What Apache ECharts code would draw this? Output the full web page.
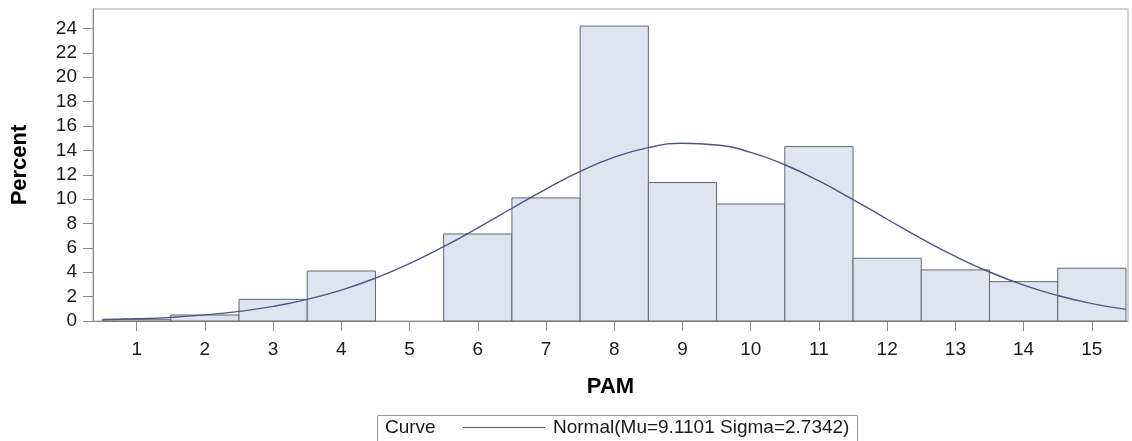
<!DOCTYPE html>
<html>
<head>
<meta charset="utf-8">
<script src="https://cdn.jsdelivr.net/npm/echarts@6/dist/echarts.min.js"></script>
<style>
  html, body { margin: 0; padding: 0; background: #fff; }
  #main { width: 1132px; height: 441px; }
</style>
</head>
<body>
<div id="main"></div>
<script>
// histogram bins (PAM), bin width 1, centred on the integers
var binCenters = [1, 2, 3, 4, 5, 6, 7, 8, 9, 10, 11, 12, 13, 14, 15];
var binPercent = [0.14, 0.49, 1.78, 4.1, 0, 7.14, 10.1, 24.2, 11.36, 9.6, 14.31, 5.15, 4.19, 3.23, 4.33];

// normal curve, every half unit
var curveX = [0.5, 1, 1.5, 2, 2.5, 3, 3.5, 4, 4.5, 5, 5.5, 6, 6.5, 7, 7.5, 8,
              8.5, 9, 9.5, 10, 10.5, 11, 11.5, 12, 12.5, 13, 13.5, 14, 14.5, 15, 15.5];
var curveY = [0.10, 0.18, 0.30, 0.50, 0.79, 1.20, 1.78, 2.54, 3.52, 4.71, 6.10, 7.64,
              9.25, 10.83, 12.27, 13.44, 14.23, 14.58, 14.44, 13.84, 12.82, 11.49, 9.96,
              8.35, 6.76, 5.30, 4.02, 2.95, 2.09, 1.43, 0.95];

var xTicks = [1, 2, 3, 4, 5, 6, 7, 8, 9, 10, 11, 12, 13, 14, 15];
var yTicks = [0, 2, 4, 6, 8, 10, 12, 14, 16, 18, 20, 22, 24];

var FONT = '"Liberation Sans", Arial, sans-serif';
var AXIS_GREY = '#8a8a8a';
var CURVE_COLOR = '#4b5785';

var barData = binCenters.map(function (c, i) { return [c, binPercent[i]]; });
var curveData = curveX.map(function (x, i) { return [x, curveY[i]]; });

var myChart = echarts.init(document.getElementById('main'));
myChart.setOption({
    animation: false,
    backgroundColor: '#fff',
    grid: {
        left: 93,
        right: 4,
        top: 9,
        bottom: 120,
        show: true,
        borderColor: '#a8a8a8',
        borderWidth: 1
    },
    xAxis: {
        type: 'value',
        min: 0.36,
        max: 15.53,
        name: 'PAM',
        nameLocation: 'middle',
        nameGap: 55,
        nameTextStyle: { fontFamily: FONT, fontSize: 22, fontWeight: 'bold', color: '#000' },
        splitLine: { show: false },
        axisLine: { onZero: false, lineStyle: { color: AXIS_GREY } },
        axisTick: { length: 10, lineStyle: { color: AXIS_GREY }, customValues: xTicks },
        axisLabel: { margin: 19, fontFamily: FONT, fontSize: 19, color: '#1a1a1a', customValues: xTicks }
    },
    yAxis: {
        type: 'value',
        min: 0,
        max: 25.6,
        name: 'Percent',
        nameLocation: 'middle',
        nameRotate: 90,
        nameGap: 62,
        nameTextStyle: { fontFamily: FONT, fontSize: 22, fontWeight: 'bold', color: '#000' },
        splitLine: { show: false },
        axisLine: { show: true, lineStyle: { color: AXIS_GREY } },
        axisTick: { show: true, length: 10, lineStyle: { color: AXIS_GREY }, customValues: yTicks },
        axisLabel: { margin: 16, fontFamily: FONT, fontSize: 19, color: '#1a1a1a', customValues: yTicks }
    },
    legend: {
        left: 463,
        top: 418,
        padding: 0,
        icon: 'rect',
        itemWidth: 82,
        itemHeight: 1.2,
        itemGap: 0,
        textStyle: { fontFamily: FONT, fontSize: 19, color: '#1a1a1a', padding: [0, 0, 0, 3] },
        data: ['Normal(Mu=9.1101 Sigma=2.7342)']
    },
    graphic: [
        {
            type: 'rect',
            left: 375,
            top: 413,
            shape: { width: 480, height: 27 },
            style: { fill: 'none', stroke: '#9a9a9a', lineWidth: 1 }
        },
        {
            type: 'text',
            x: 385,
            y: 428,
            style: { text: 'Curve', font: '19px ' + FONT, fill: '#1a1a1a', verticalAlign: 'middle' }
        }
    ],
    series: [
        {
            name: 'Histogram',
            type: 'custom',
            data: barData,
            z: 2,
            renderItem: function (params, api) {
                var c = api.value(0);
                var v = api.value(1);
                if (!v) return null;
                var p0 = api.coord([c - 0.5, v]);
                var p1 = api.coord([c + 0.5, 0]);
                return {
                    type: 'rect',
                    shape: { x: p0[0], y: p0[1], width: p1[0] - p0[0], height: p1[1] - p0[1] },
                    style: { fill: '#dfe5f0', stroke: '#63666f', lineWidth: 1 }
                };
            }
        },
        {
            name: 'Normal(Mu=9.1101 Sigma=2.7342)',
            type: 'line',
            data: curveData,
            smooth: true,
            showSymbol: false,
            symbol: 'none',
            z: 3,
            lineStyle: { color: CURVE_COLOR, width: 1.4 },
            itemStyle: { color: CURVE_COLOR }
        }
    ]
});
</script>
</body>
</html>
